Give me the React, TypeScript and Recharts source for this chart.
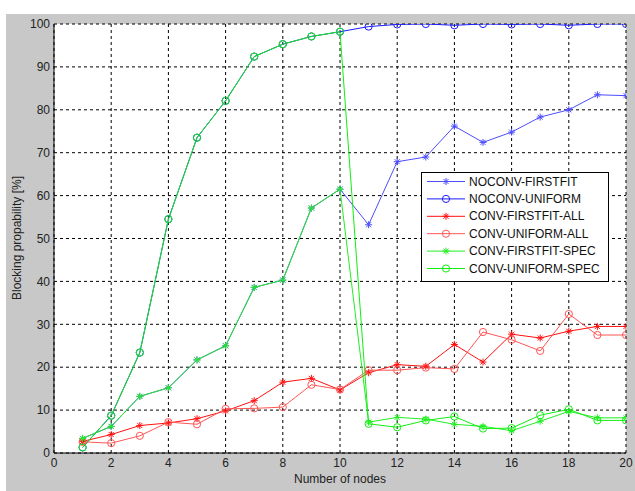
import React from 'react';
import { LineChart, Line, XAxis, YAxis, CartesianGrid, Legend } from 'recharts';

const nodes = [1, 2, 3, 4, 5, 6, 7, 8, 9, 10, 11, 12, 13, 14, 15, 16, 17, 18, 19, 20];
const noconvFirstfit = [3.4, 6.2, 13.2, 15.2, 21.7, 25, 38.6, 40.3, 57.1, 61.5, 53.2, 67.9, 69, 76.2, 72.4, 74.8, 78.3, 80, 83.5, 83.3];
const noconvUniform = [1.3, 8.7, 23.4, 54.5, 73.5, 82.1, 92.4, 95.3, 97.1, 98.2, 99.4, 99.9, 100, 99.7, 100, 99.9, 100, 99.7, 100, 100];
const convFirstfitAll = [2.7, 4.3, 6.4, 7, 8, 9.8, 12.2, 16.5, 17.4, 14.7, 18.7, 20.6, 20.2, 25.3, 21.2, 27.7, 26.8, 28.4, 29.5, 29.5];
const convUniformAll = [2.6, 2.3, 4, 7.2, 6.7, 10.3, 10.4, 10.7, 15.9, 14.8, 19.3, 19.3, 19.9, 19.6, 28.2, 26.4, 23.8, 32.4, 27.5, 27.5];
const convFirstfitSpec = [3.4, 6.2, 13.2, 15.2, 21.7, 25, 38.6, 40.3, 57.1, 61.5, 7.2, 8.3, 7.9, 6.7, 6.2, 5.2, 7.4, 9.7, 8.2, 8.2];
const convUniformSpec = [1.3, 8.7, 23.4, 54.5, 73.5, 82.1, 92.4, 95.3, 97.1, 98.2, 6.8, 6, 7.6, 8.5, 5.7, 5.8, 8.8, 10.2, 7.6, 7.6];

const xTicks = [0, 2, 4, 6, 8, 10, 12, 14, 16, 18, 20];
const yTicks = [0, 10, 20, 30, 40, 50, 60, 70, 80, 90, 100];

const series = [
  { key: 'nf', name: 'NOCONV-FIRSTFIT', values: noconvFirstfit, color: '#4d4dff', marker: 'star' },
  { key: 'nu', name: 'NOCONV-UNIFORM', values: noconvUniform, color: '#1a1aff', marker: 'circle' },
  { key: 'cfa', name: 'CONV-FIRSTFIT-ALL', values: convFirstfitAll, color: '#ff1010', marker: 'star' },
  { key: 'cua', name: 'CONV-UNIFORM-ALL', values: convUniformAll, color: '#ff5555', marker: 'circle' },
  { key: 'cfs', name: 'CONV-FIRSTFIT-SPEC', values: convFirstfitSpec, color: '#22ee22', marker: 'star' },
  { key: 'cus', name: 'CONV-UNIFORM-SPEC', values: convUniformSpec, color: '#10f010', marker: 'circle' },
];

const data = nodes.map((n, i) => {
  const row: any = { n };
  series.forEach((s) => { row[s.key] = s.values[i]; });
  return row;
});

const FONT = '"Liberation Sans", Arial, sans-serif';

const starPath = (cx: number, cy: number) => {
  const r = 3.5;
  const d = 2.5;
  return `M${cx - r},${cy}L${cx + r},${cy}M${cx},${cy - r}L${cx},${cy + r}M${cx - d},${cy - d}L${cx + d},${cy + d}M${cx - d},${cy + d}L${cx + d},${cy - d}`;
};

const makeDot = (marker: string, color: string) => (props: any) => {
  const { cx, cy, index } = props;
  if (cx == null || cy == null) return <g key={index} />;
  if (marker === 'star') {
    return <path key={index} d={starPath(cx, cy)} stroke={color} strokeWidth={1} fill="none" />;
  }
  return <circle key={index} cx={cx} cy={cy} r={3.6} stroke={color} strokeWidth={1} fill="none" />;
};

const LegendBox = () => (
  <svg width={188} height={110} style={{ display: 'block' }}>
    <rect x={0.5} y={0.5} width={187} height={109} fill="#fff" stroke="#000" strokeWidth={1} />
    {series.map((s, i) => {
      const y = 9.5 + i * 17.4;
      return (
        <g key={s.key}>
          <line x1={6} y1={y} x2={44} y2={y} stroke={s.color} strokeWidth={1} />
          {s.marker === 'star' ? (
            <path d={starPath(25, y)} stroke={s.color} strokeWidth={1} fill="none" />
          ) : (
            <circle cx={25} cy={y} r={3.6} stroke={s.color} fill="none" strokeWidth={1} />
          )}
          <text x={48} y={y} dominantBaseline="central" fontSize={12} fontFamily={FONT} fill="#111">
            {s.name}
          </text>
        </g>
      );
    })}
  </svg>
);

export default function App() {
  return (
    <div style={{ position: 'absolute', left: 0, top: 0, width: 635, height: 491, background: '#fff', overflow: 'hidden' }}>
      <div style={{ position: 'absolute', left: 6, top: 14, width: 629, height: 477, background: '#c8c8c8' }} />
      <div style={{ position: 'absolute', left: 0, top: 0 }}>
        <LineChart width={635} height={491} data={data} margin={{ top: 24, right: 9, bottom: 0, left: 24 }}>
          <CartesianGrid stroke="#000" strokeDasharray="3 3" fill="#fff" fillOpacity={1} />
          <XAxis
            dataKey="n"
            type="number"
            domain={[0, 20]}
            ticks={xTicks}
            interval={0}
            allowDataOverflow
            axisLine={{ stroke: '#000', strokeWidth: 1 }}
            tickLine={false}
            tickSize={0}
            tickMargin={5}
            height={38}
            tick={{ fontSize: 12, fontFamily: FONT, fill: '#222' }}
            label={{
              content: () => (
                <text x={340} y={479} textAnchor="middle" dominantBaseline="central" fontSize={12} fontFamily={FONT} fill="#222">
                  Number of nodes
                </text>
              ),
            }}
          />
          <YAxis
            type="number"
            domain={[0, 100]}
            ticks={yTicks}
            interval={0}
            allowDataOverflow
            axisLine={{ stroke: '#000', strokeWidth: 1 }}
            tickLine={false}
            tickSize={0}
            tickMargin={4}
            width={30}
            tick={{ fontSize: 12, fontFamily: FONT, fill: '#222' }}
            label={{
              content: () => (
                <text
                  x={17}
                  y={238}
                  transform="rotate(-90 17 238)"
                  textAnchor="middle"
                  dominantBaseline="central"
                  fontSize={12}
                  fontFamily={FONT}
                  fill="#222"
                >
                  Blocking propability [%]
                </text>
              ),
            }}
          />
          {series.map((s) => (
            <Line
              key={s.key}
              dataKey={s.key}
              name={s.name}
              type="linear"
              stroke={s.color}
              strokeWidth={1}
              dot={makeDot(s.marker, s.color)}
              activeDot={false}
              isAnimationActive={false}
            />
          ))}
          <Legend
            layout="vertical"
            align="center"
            verticalAlign="middle"
            content={() => <LegendBox />}
            wrapperStyle={{ position: 'absolute', left: 421, top: 172, width: 188, height: 110, margin: 0, padding: 0 }}
          />
        </LineChart>
      </div>
    </div>
  );
}
